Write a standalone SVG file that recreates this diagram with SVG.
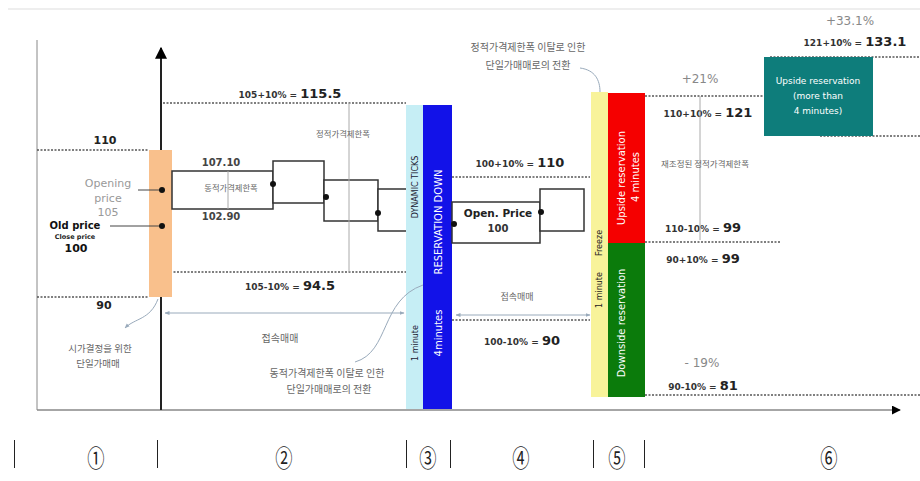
<svg xmlns="http://www.w3.org/2000/svg" width="920" height="481" viewBox="0 0 920 481">
<style>
text{font-family:"DejaVu Sans","Noto Sans CJK KR",sans-serif}
.kr{font-family:"Noto Sans CJK KR",sans-serif;fill:#666;text-anchor:middle}
.dot{stroke:#555;stroke-width:1.5;stroke-dasharray:2 1.5;fill:none}
.box{fill:#fff;stroke:#333;stroke-width:1.5}
.pt{fill:#111}
.s{font-size:9px;font-weight:bold;fill:#333}
.b{font-size:13px;font-weight:bold;fill:#222}
.pct{font-size:12px;fill:#888;text-anchor:middle}
.thin{stroke:#aaa;stroke-width:1;fill:none}
.lead{stroke:#444;stroke-width:1;fill:none}
.num{font-family:"Noto Sans CJK KR",serif;font-size:24px;fill:#222;text-anchor:middle}
.sep{stroke:#222;stroke-width:1}
.vt{text-anchor:middle}
</style>
<defs>
<marker id="ah" viewBox="0 0 10 10" refX="9" refY="5" markerWidth="6" markerHeight="6" orient="auto-start-reverse"><path d="M0,0 L10,5 L0,10 z" fill="#000"/></marker>
<marker id="sa" viewBox="0 0 10 10" refX="9" refY="5" markerWidth="5" markerHeight="5" orient="auto-start-reverse"><path d="M0,1 L10,5 L0,9 z" fill="#9ab"/></marker>
</defs>
<rect width="920" height="481" fill="#fff"/>
<line x1="8" y1="9" x2="920" y2="9" stroke="#ddd" stroke-width="1"/>

<g id="axes">
<line x1="37" y1="40" x2="37" y2="410" stroke="#888" stroke-width="1"/>
<line x1="37" y1="410" x2="900" y2="410" stroke="#888" stroke-width="1.5" marker-end="url(#ah)"/>
<line x1="161" y1="410" x2="161" y2="48" stroke="#222" stroke-width="2" marker-end="url(#ah)"/>
</g>

<g id="levels">
<line class="dot" x1="37" y1="150" x2="149" y2="150"/>
<line class="dot" x1="37" y1="297" x2="149" y2="297"/>
<line class="dot" x1="163" y1="103" x2="406" y2="103"/>
<line class="dot" x1="163" y1="272" x2="406" y2="272"/>
<line class="dot" x1="452" y1="177" x2="590" y2="177"/>
<line class="dot" x1="452" y1="320" x2="590" y2="320"/>
<line class="dot" x1="645" y1="96" x2="764" y2="96"/>
<line class="dot" x1="645" y1="242" x2="780" y2="242" stroke="#333"/>
<line class="dot" x1="645" y1="395" x2="920" y2="395"/>
<line class="dot" x1="770" y1="57" x2="920" y2="57"/>
<line class="dot" x1="820" y1="136" x2="920" y2="136"/>
<text x="105" y="144" class="vt" font-size="11" font-weight="bold" fill="#222">110</text>
<text x="104" y="309" class="vt" font-size="11" font-weight="bold" fill="#222">90</text>
<text x="290" y="98" class="vt"><tspan class="s">105+10% = </tspan><tspan class="b">115.5</tspan></text>
<text x="290" y="290" class="vt"><tspan class="s">105-10% = </tspan><tspan class="b">94.5</tspan></text>
<text x="520" y="167" class="vt"><tspan class="s">100+10% = </tspan><tspan class="b">110</tspan></text>
<text x="522" y="345" class="vt"><tspan class="s">100-10% = </tspan><tspan class="b">90</tspan></text>
<text x="708" y="117" class="vt"><tspan class="s">110+10% = </tspan><tspan class="b">121</tspan></text>
<text x="703" y="232" class="vt"><tspan class="s">110-10% = </tspan><tspan class="b">99</tspan></text>
<text x="703" y="263" class="vt"><tspan class="s">90+10% = </tspan><tspan class="b">99</tspan></text>
<text x="703" y="390" class="vt"><tspan class="s">90-10% = </tspan><tspan class="b">81</tspan></text>
<text x="855" y="46" class="vt"><tspan class="s">121+10% = </tspan><tspan class="b">133.1</tspan></text>
<text x="700" y="83" class="pct">+21%</text>
<text x="850" y="25" class="pct">+33.1%</text>
<text x="702" y="367" class="pct">- 19%</text>
</g>

<g id="phase1">
<rect x="149" y="150" width="23" height="147" fill="#F9C08C"/>
<line class="lead" x1="138" y1="190" x2="162" y2="190"/>
<line class="lead" x1="110" y1="226" x2="162" y2="226"/>
<circle class="pt" cx="162" cy="190" r="3"/>
<circle class="pt" cx="162" cy="226" r="3"/>
<text x="108" y="187" class="vt" font-size="11" fill="#999">Opening</text>
<text x="108" y="202" class="vt" font-size="11" fill="#999">price</text>
<text x="108" y="216" class="vt" font-size="11" fill="#999">105</text>
<text x="75" y="229" class="vt" font-size="10" font-weight="bold" fill="#111">Old price</text>
<text x="75" y="239" class="vt" font-size="6.5" font-weight="bold" fill="#222">Close price</text>
<text x="76" y="252" class="vt" font-size="11" font-weight="bold" fill="#111">100</text>
<text class="kr" font-size="9.5" x="100" y="352">시가결정을 위한</text>
<text class="kr" font-size="9.5" x="98" y="367">단일가매매</text>
</g>

<g id="phase2">
<rect class="box" x="172" y="171" width="101" height="38"/>
<rect class="box" x="273" y="161" width="51" height="42"/>
<rect class="box" x="324" y="180" width="54" height="41"/>
<rect class="box" x="378" y="189" width="29" height="42"/>
<line class="thin" x1="228" y1="171" x2="228" y2="209"/>
<line class="thin" x1="349" y1="103" x2="349" y2="272"/>
<circle class="pt" cx="273" cy="184" r="3"/>
<circle class="pt" cx="326" cy="197" r="3"/>
<circle class="pt" cx="378" cy="213" r="3"/>
<text x="221" y="166" class="vt" font-size="10" font-weight="bold" fill="#444">107.10</text>
<text x="221" y="220" class="vt" font-size="10" font-weight="bold" fill="#444">102.90</text>
<text class="kr" font-size="8.3" x="231" y="191">동적가격제한폭</text>
<text class="kr" font-size="8.4" x="343" y="137">정적가격제한폭</text>
<text class="kr" font-size="10" x="280" y="342">접속매매</text>
<text class="kr" font-size="10" x="327" y="377">동적가격제한폭 이탈로 인한</text>
<text class="kr" font-size="10" x="329" y="393">단일가매매로의 전환</text>
</g>

<g id="phase3">
<rect x="406" y="105" width="17" height="304" fill="#C6EEF5"/>
<rect x="423" y="105" width="29" height="304" fill="#1212E8"/>
<text transform="translate(418,187) rotate(-90)" class="vt" font-size="8" fill="#223">DYNAMIC TICKS</text>
<text transform="translate(418,343) rotate(-90)" class="vt" font-size="8" fill="#223">1 minute</text>
<text transform="translate(442,222) rotate(-90)" class="vt" font-size="10" fill="#fff">RESERVATION DOWN</text>
<text transform="translate(442,333) rotate(-90)" class="vt" font-size="10" fill="#fff">4minutes</text>
</g>

<g id="phase4">
<rect class="box" x="452" y="202" width="88" height="41"/>
<rect class="box" x="540" y="189" width="44" height="42"/>
<circle class="pt" cx="454" cy="224" r="3"/>
<circle class="pt" cx="541" cy="212" r="3"/>
<text x="498" y="217" class="vt" font-size="10.5" font-weight="bold" fill="#222">Open. Price</text>
<text x="498" y="232" class="vt" font-size="10" font-weight="bold" fill="#333">100</text>
<text class="kr" font-size="9" x="517" y="300">접속매매</text>
<text class="kr" font-size="10" x="528" y="51">정적가격제한폭 이탈로 인한</text>
<text class="kr" font-size="10" x="528" y="69">단일가매매로의 전환</text>
</g>

<g id="phase5">
<rect x="591" y="92" width="17" height="305" fill="#F8F39A"/>
<rect x="608" y="93" width="37" height="150" fill="#F50000"/>
<rect x="608" y="243" width="37" height="154" fill="#0B7B0B"/>
<text transform="translate(602,243) rotate(-90)" class="vt" font-size="8" fill="#222">Freeze</text>
<text transform="translate(602,290) rotate(-90)" class="vt" font-size="8" fill="#222">1 minute</text>
<text transform="translate(625,178) rotate(-90)" class="vt" font-size="10" fill="#fff">Upside reservation</text>
<text transform="translate(639,177) rotate(-90)" class="vt" font-size="10" fill="#fff">4 minutes</text>
<text transform="translate(625,323) rotate(-90)" class="vt" font-size="10" fill="#fff">Downside reservation</text>
</g>

<g id="phase6">
<rect x="764" y="57" width="109" height="79" fill="#0E7D7B"/>
<text x="818" y="84" class="vt" font-size="9" fill="#fff">Upside reservation</text>
<text x="818" y="99" class="vt" font-size="9" fill="#fff">(more than</text>
<text x="818" y="114" class="vt" font-size="9" fill="#fff">4 minutes)</text>
<line class="thin" x1="700" y1="96" x2="700" y2="240"/>
<text class="kr" font-size="8.5" x="705" y="167">재조정된 정적가격제한폭</text>
</g>

<g id="connectors">
<line x1="165" y1="313" x2="404" y2="313" stroke="#9ab" stroke-width="1" marker-start="url(#sa)" marker-end="url(#sa)"/>
<line x1="456" y1="315" x2="590" y2="315" stroke="#9ab" stroke-width="1" marker-start="url(#sa)" marker-end="url(#sa)"/>
<path d="M158,299 C150,320 135,318 125,328" stroke="#9ab" stroke-width="1" fill="none" marker-end="url(#sa)"/>
<path d="M355,362 C390,352 380,300 423,285" stroke="#9ab" stroke-width="1" fill="none"/>
<path d="M580,68 C595,70 600,80 600,92" stroke="#9ab" stroke-width="1" fill="none"/>
</g>

<g id="sections">
<line class="sep" x1="14.5" y1="440" x2="14.5" y2="468"/>
<line class="sep" x1="157.5" y1="440" x2="157.5" y2="468"/>
<line class="sep" x1="406.5" y1="440" x2="406.5" y2="468"/>
<line class="sep" x1="450.5" y1="440" x2="450.5" y2="468"/>
<line class="sep" x1="593.5" y1="440" x2="593.5" y2="468"/>
<line class="sep" x1="644.5" y1="440" x2="644.5" y2="468"/>
<text class="num" transform="translate(96,467) scale(0.72,1)">①</text>
<text class="num" transform="translate(284,467) scale(0.72,1)">②</text>
<text class="num" transform="translate(428,467) scale(0.72,1)">③</text>
<text class="num" transform="translate(521,467) scale(0.72,1)">④</text>
<text class="num" transform="translate(617,467) scale(0.72,1)">⑤</text>
<text class="num" transform="translate(829,467) scale(0.72,1)">⑥</text>
</g>
</svg>
